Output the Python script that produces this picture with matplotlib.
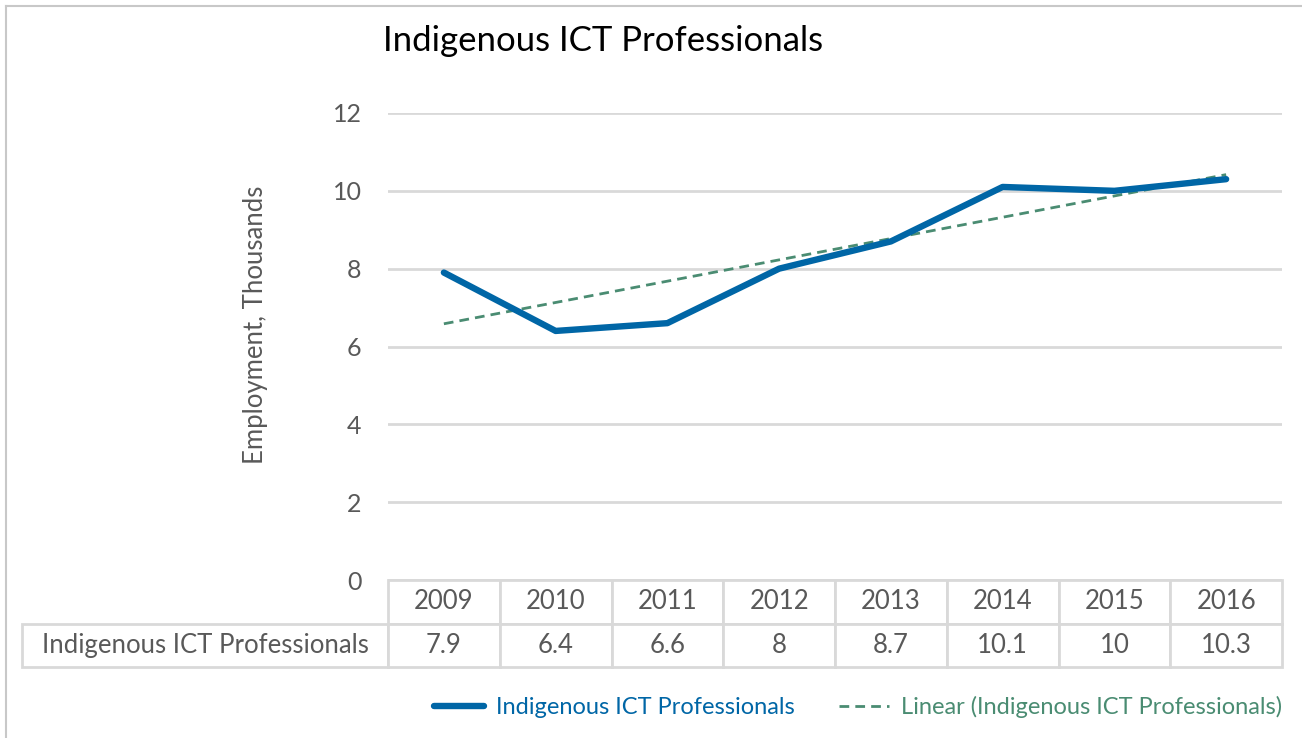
import numpy as np
import matplotlib
matplotlib.use("Agg")
import matplotlib.pyplot as plt
from matplotlib.table import Table
from matplotlib.lines import Line2D

plt.rcParams['font.family'] = ['Lato', 'DejaVu Sans']

years = ["2009", "2010", "2011", "2012", "2013", "2014", "2015", "2016"]
employment = [7.9, 6.4, 6.6, 8, 8.7, 10.1, 10, 10.3]
series_name = "Indigenous ICT Professionals"
trend_name = "Linear (Indigenous ICT Professionals)"
y_ticks = [0, 2, 4, 6, 8, 10, 12]

BLUE = "#0066a6"
GREEN = "#4a8c72"
GRID = "#d9d9d9"
TEXT = "#595959"

W, H = 1302, 738
fig = plt.figure(figsize=(W / 100, H / 100), dpi=100)

# plot area in pixel coords -> figure fractions
left, right, top, bottom = 388, 1282, 113, 580
ax = fig.add_axes([left / W, 1 - bottom / H, (right - left) / W, (bottom - top) / H])

x = np.arange(len(years))
ax.plot(x, employment, color=BLUE, lw=4.6, solid_capstyle='round',
        solid_joinstyle='round', label=series_name, zorder=3)

slope, intercept = np.polyfit(x, employment, 1)
ax.plot(x, slope * x + intercept, color=GREEN, lw=2, ls=(0, (3.5, 2.2)),
        label=trend_name, zorder=2)

ax.set_xlim(-0.5, len(years) - 0.5)
ax.set_ylim(0, 12)
ax.set_yticks(y_ticks)
ax.set_xticks([])
ax.tick_params(axis='y', length=0, pad=19, labelsize=18, labelcolor=TEXT)
ax.grid(axis='y', color=GRID, lw=2)
ax.set_axisbelow(True)
for s in ax.spines.values():
    s.set_visible(False)

# data table under the plot
label_w = (left - 22) / (right - left)
tbl = Table(ax, bbox=[-label_w, -(667 - 580) / (bottom - top), 1 + label_w, 87 / (bottom - top)])
col_w = 1.0 / len(years)
for j, yr in enumerate(years):
    tbl.add_cell(0, j + 1, col_w, 1, text=yr, loc='center', edgecolor=GRID)
    tbl.add_cell(1, j + 1, col_w, 1, text=f"{employment[j]:g}", loc='center', edgecolor=GRID)
tbl.add_cell(1, 0, label_w, 1, text=series_name, loc='center', edgecolor=GRID)
tbl.auto_set_font_size(False)
tbl.set_fontsize(18.5)
for cell in tbl.get_celld().values():
    cell.set_linewidth(2)
    cell.get_text().set_color(TEXT)
ax.add_table(tbl)

fig.text(383 / W, 1 - 41 / H, "Indigenous ICT Professionals", fontsize=25,
         color='black', ha='left', va='center')
fig.text(256 / W, 1 - 325 / H, "Employment, Thousands", fontsize=18.5,
         color=TEXT, rotation=90, ha='center', va='center')

leg = ax.legend(loc='center right', bbox_to_anchor=(1.0, -(707 - 580) / (bottom - top)),
                ncol=2, frameon=False, fontsize=17, handlelength=2.1,
                handletextpad=0.5, columnspacing=1.9, borderaxespad=0, borderpad=0)
for txt, col in zip(leg.get_texts(), [BLUE, GREEN]):
    txt.set_color(col)

# chart frame edges
fig.add_artist(Line2D([6 / W, 1], [1 - 6 / H, 1 - 6 / H], color="#c8c8c8", lw=1.5))
fig.add_artist(Line2D([6 / W, 6 / W], [0, 1 - 6 / H], color="#c8c8c8", lw=1.5))

fig.savefig("out.png", dpi=100)
